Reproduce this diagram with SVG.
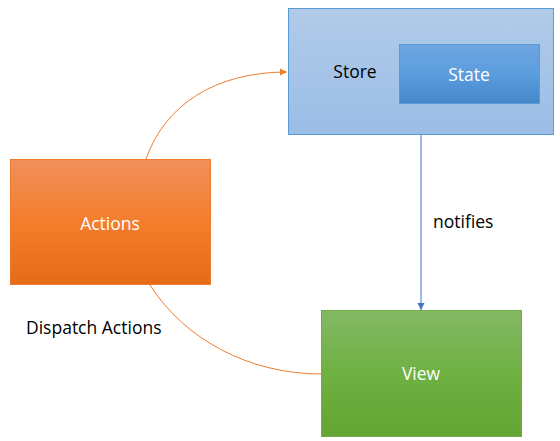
<svg xmlns="http://www.w3.org/2000/svg" width="560" height="441" viewBox="0 0 560 441">
<defs>
<linearGradient id="gStore" x1="0" y1="0" x2="0" y2="1"><stop offset="0" stop-color="#b1cbe9"/><stop offset="1" stop-color="#9bbde6"/></linearGradient>
<linearGradient id="gState" x1="0" y1="0" x2="0" y2="1"><stop offset="0" stop-color="#6fa5df"/><stop offset="0.5" stop-color="#5b9ddf"/><stop offset="1" stop-color="#4586c8"/></linearGradient>
<linearGradient id="gAct" x1="0" y1="0" x2="0" y2="1"><stop offset="0" stop-color="#f08f5a"/><stop offset="0.5" stop-color="#f47d2c"/><stop offset="1" stop-color="#e56b17"/></linearGradient>
<linearGradient id="gView" x1="0" y1="0" x2="0" y2="1"><stop offset="0" stop-color="#84b865"/><stop offset="0.5" stop-color="#6fb142"/><stop offset="1" stop-color="#63a434"/></linearGradient>
<marker id="aOr" markerWidth="8" markerHeight="8" refX="7" refY="4" orient="auto" markerUnits="userSpaceOnUse"><path d="M0,0.5 L7,4 L0,7.5 Z" fill="#ed7d31"/></marker>
<marker id="aBl" markerWidth="8" markerHeight="8" refX="4" refY="7" orient="0" markerUnits="userSpaceOnUse"><path d="M0.5,0 L4,7 L7.5,0 Z" fill="#4472c4"/></marker>
</defs>
<style>
text{font-family:"Open Sans","Liberation Sans",sans-serif;font-size:17.5px;}
.w{fill:#ffffff;}
.k{fill:#000000;}
.c{fill:none;stroke-width:1;}
</style>
<g id="connectors">
<path class="c" d="M146,159 C165,105 215,72 287,72" stroke="#ed7d31" marker-end="url(#aOr)"/>
<path class="c" d="M150,285 C185,340 250,374 321,374" stroke="#ed7d31"/>
<line x1="421" y1="134" x2="421" y2="310" stroke="#4472c4" stroke-width="1" marker-end="url(#aBl)"/>
<text class="k" x="433" y="228">notifies</text>
<text class="k" x="26" y="334">Dispatch Actions</text>
</g>
<g id="store">
<rect x="288.5" y="8.5" width="265" height="126" fill="url(#gStore)" stroke="#5b9bd5" stroke-width="1"/>
<text class="k" x="355" y="78" text-anchor="middle">Store</text>
</g>
<g id="state">
<rect x="399.5" y="44.5" width="140" height="59" fill="url(#gState)" stroke="#5b9bd5" stroke-width="1"/>
<text class="w" x="469" y="81" text-anchor="middle">State</text>
</g>
<g id="actions">
<rect x="10.5" y="159.5" width="200" height="125" fill="url(#gAct)" stroke="#ed7d31" stroke-width="1"/>
<text class="w" x="110" y="230" text-anchor="middle">Actions</text>
</g>
<g id="view">
<rect x="321.5" y="310.5" width="200" height="126" fill="url(#gView)" stroke="#70ad47" stroke-width="1"/>
<text class="w" x="421" y="380" text-anchor="middle">View</text>
</g>
</svg>
